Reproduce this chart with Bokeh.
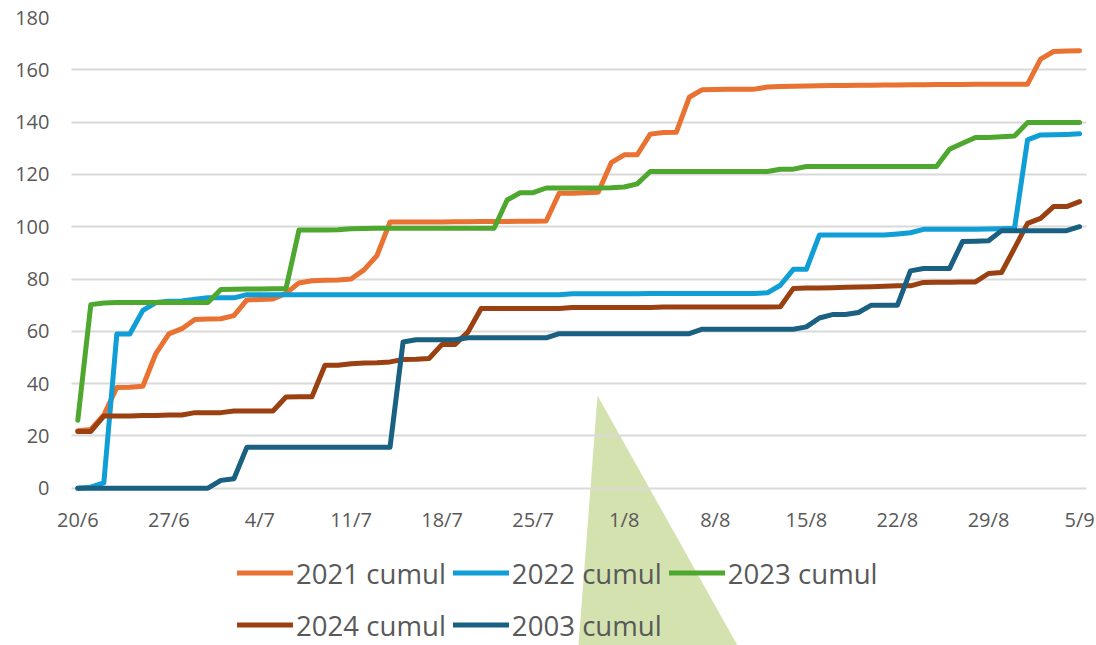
from bokeh.plotting import figure
from bokeh.models import Range1d, FixedTicker, Legend, LegendItem, PolyAnnotation, Grid
from bokeh.embed import file_html
from bokeh.resources import INLINE

# ---------------- data ----------------
tick_days = [0, 7, 14, 21, 28, 35, 42, 49, 56, 63, 70, 77]
tick_labels = ["20/6", "27/6", "4/7", "11/7", "18/7", "25/7", "1/8", "8/8",
               "15/8", "22/8", "29/8", "5/9"]
days = list(range(78))  # 20/6 .. 5/9

cumul_2021 = [22.0, 22.5, 28.0, 38.5, 38.6, 39.0, 51.5, 59.0, 61.0, 64.5,
              64.7, 64.8, 66.0, 72.0, 72.2, 72.4, 74.5, 78.5, 79.3, 79.5,
              79.6, 80.0, 83.5, 89.0, 101.8, 101.8, 101.8, 101.8, 101.8, 101.9,
              101.9, 102.0, 102.0, 102.0, 102.1, 102.1, 102.2, 112.8, 112.8, 113.0,
              113.2, 124.5, 127.5, 127.5, 135.4, 136.0, 136.1, 149.5, 152.4, 152.5,
              152.6, 152.6, 152.6, 153.4, 153.6, 153.7, 153.8, 153.9, 154.0, 154.0,
              154.1, 154.1, 154.2, 154.2, 154.3, 154.3, 154.4, 154.4, 154.4, 154.5,
              154.5, 154.5, 154.5, 154.5, 164.1, 167.0, 167.2, 167.3]

cumul_2022 = [0.0, 0.4, 2.0, 59.0, 59.0, 68.0, 71.0, 71.5, 71.6, 72.3,
              72.8, 72.8, 72.8, 74.0, 74.0, 74.0, 74.0, 74.0, 74.0, 74.0,
              74.0, 74.0, 74.0, 74.0, 74.0, 74.0, 74.0, 74.0, 74.0, 74.0,
              74.0, 74.0, 74.0, 74.0, 74.0, 74.0, 74.0, 74.0, 74.4, 74.4,
              74.4, 74.4, 74.4, 74.4, 74.5, 74.5, 74.5, 74.5, 74.5, 74.5,
              74.5, 74.5, 74.5, 74.7, 77.6, 83.7, 83.7, 96.8, 96.8, 96.8,
              96.8, 96.8, 96.8, 97.2, 97.7, 99.0, 99.0, 99.0, 99.0, 99.0,
              99.1, 99.2, 99.4, 133.2, 135.1, 135.2, 135.3, 135.5]

cumul_2023 = [26.0, 70.2, 70.8, 71.0, 71.0, 71.0, 71.0, 71.0, 71.0, 71.0,
              71.0, 76.0, 76.1, 76.2, 76.2, 76.3, 76.3, 98.7, 98.7, 98.7,
              98.8, 99.2, 99.3, 99.4, 99.4, 99.4, 99.4, 99.4, 99.4, 99.4,
              99.4, 99.4, 99.4, 110.2, 113.0, 113.0, 114.8, 114.8, 114.8, 114.8,
              114.8, 114.9, 115.2, 116.4, 121.1, 121.1, 121.1, 121.1, 121.1, 121.1,
              121.1, 121.1, 121.1, 121.1, 122.0, 122.0, 123.0, 123.0, 123.0, 123.0,
              123.0, 123.0, 123.0, 123.0, 123.0, 123.0, 123.0, 129.6, 131.9, 134.1,
              134.1, 134.4, 134.7, 139.8, 139.8, 139.8, 139.8, 139.8]

cumul_2024 = [21.7, 21.7, 27.6, 27.6, 27.6, 27.8, 27.8, 28.0, 28.0, 28.9,
              28.9, 28.9, 29.5, 29.5, 29.5, 29.5, 34.9, 35.0, 35.0, 47.0,
              47.0, 47.6, 47.9, 48.0, 48.3, 49.2, 49.3, 49.6, 55.0, 55.0,
              59.8, 68.7, 68.7, 68.7, 68.7, 68.7, 68.7, 68.7, 69.1, 69.1,
              69.1, 69.1, 69.1, 69.1, 69.1, 69.3, 69.3, 69.3, 69.3, 69.3,
              69.3, 69.3, 69.3, 69.3, 69.4, 76.4, 76.6, 76.6, 76.7, 76.8,
              76.9, 77.0, 77.2, 77.4, 77.4, 78.7, 78.8, 78.8, 78.9, 78.9,
              82.1, 82.5, 91.8, 101.3, 103.2, 107.7, 107.7, 109.6]

cumul_2003 = [0.0, 0.0, 0.0, 0.0, 0.0, 0.0, 0.0, 0.0, 0.0, 0.0,
              0.0, 3.0, 3.6, 15.7, 15.7, 15.7, 15.7, 15.7, 15.7, 15.7,
              15.7, 15.7, 15.7, 15.7, 15.7, 55.9, 56.8, 56.8, 56.8, 56.8,
              57.5, 57.5, 57.5, 57.5, 57.5, 57.5, 57.5, 59.1, 59.1, 59.1,
              59.1, 59.1, 59.1, 59.1, 59.1, 59.1, 59.1, 59.1, 60.8, 60.8,
              60.8, 60.8, 60.8, 60.8, 60.8, 60.8, 61.7, 65.1, 66.4, 66.4,
              67.2, 70.0, 70.0, 70.0, 83.1, 84.0, 84.0, 84.0, 94.3, 94.4,
              94.6, 98.5, 98.5, 98.5, 98.5, 98.5, 98.5, 100.0]

series_names = ["2021 cumul", "2022 cumul", "2023 cumul", "2024 cumul", "2003 cumul"]
series_values = [cumul_2021, cumul_2022, cumul_2023, cumul_2024, cumul_2003]
series_colors = ["#E97132", "#0F9ED5", "#4EA72E", "#9B4111", "#196082"]

y_ticks = [0, 20, 40, 60, 80, 100, 120, 140, 160, 180]

# ---------------- figure ----------------
FONT = "Open Sans"
TXT = "#595959"

# plot-area extent (category axis: half a day of padding either side)
X_LO, X_HI = -0.5, 77.5

# the frame runs down to the bottom and to the right edge of the canvas so that
# the legend, the decorative shape and the end tick labels are not clipped
p = figure(width=1096, height=645, output_backend="svg", toolbar_location=None,
           x_range=Range1d(-2.098, 78.30), y_range=Range1d(-60.15, 180),
           min_border_left=50, min_border_right=0, min_border_top=17,
           min_border_bottom=0)
p.outline_line_color = None
p.background_fill_color = "white"
p.border_fill_color = "white"

# decorative triangle shape (behind everything)
tri = PolyAnnotation(xs=[597, 578, 737], ys=[395, 645, 645],
                     xs_units="canvas", ys_units="canvas",
                     fill_color="#D4E2B0", fill_alpha=1.0,
                     line_color=None, level="image")
p.add_layout(tri)

p.xgrid.grid_line_color = None
if "cross_bounds" in Grid.properties():
    p.ygrid.grid_line_color = "#D9D9D9"
    p.ygrid.grid_line_width = 2
    p.ygrid.cross_bounds = (X_LO, X_HI)
else:
    p.ygrid.grid_line_color = None
    p.segment(x0=X_LO, x1=X_HI, y0=y_ticks, y1=y_ticks,
              line_color="#D9D9D9", line_width=2)

p.xaxis.ticker = FixedTicker(ticks=tick_days)
p.xaxis.major_label_overrides = {d: lab for d, lab in zip(tick_days, tick_labels)}
p.xaxis.fixed_location = 0
p.yaxis.ticker = FixedTicker(ticks=y_ticks)

for ax in (p.xaxis[0], p.yaxis[0]):
    ax.axis_line_color = None
    ax.major_tick_line_color = None
    ax.minor_tick_line_color = None
    ax.major_tick_out = 0
    ax.major_tick_in = 0
    ax.major_label_text_font = FONT
    ax.major_label_text_font_size = "20px"
    ax.major_label_text_color = TXT
p.xaxis.major_label_standoff = 18
p.yaxis.major_label_standoff = 1

renderers = []
for vals, col in zip(series_values, series_colors):
    r = p.line(days, vals, line_color=col, line_width=5,
               line_join="round", line_cap="round")
    renderers.append(r)

legend = Legend(items=[LegendItem(label=n, renderers=[r])
                       for n, r in zip(series_names, renderers)],
                ncols=3, orientation="horizontal",
                location=(187, -2))
legend.label_text_font = FONT
legend.label_text_font_size = "27.6px"
legend.label_text_color = TXT
legend.glyph_width = 56
legend.glyph_height = 45
legend.label_height = 45
legend.label_standoff = 3
legend.spacing = 7
legend.padding = 0
legend.margin = 0
legend.border_line_color = None
legend.background_fill_alpha = 0
p.add_layout(legend, "center")

open("out.html", "w").write(file_html(p, INLINE))
